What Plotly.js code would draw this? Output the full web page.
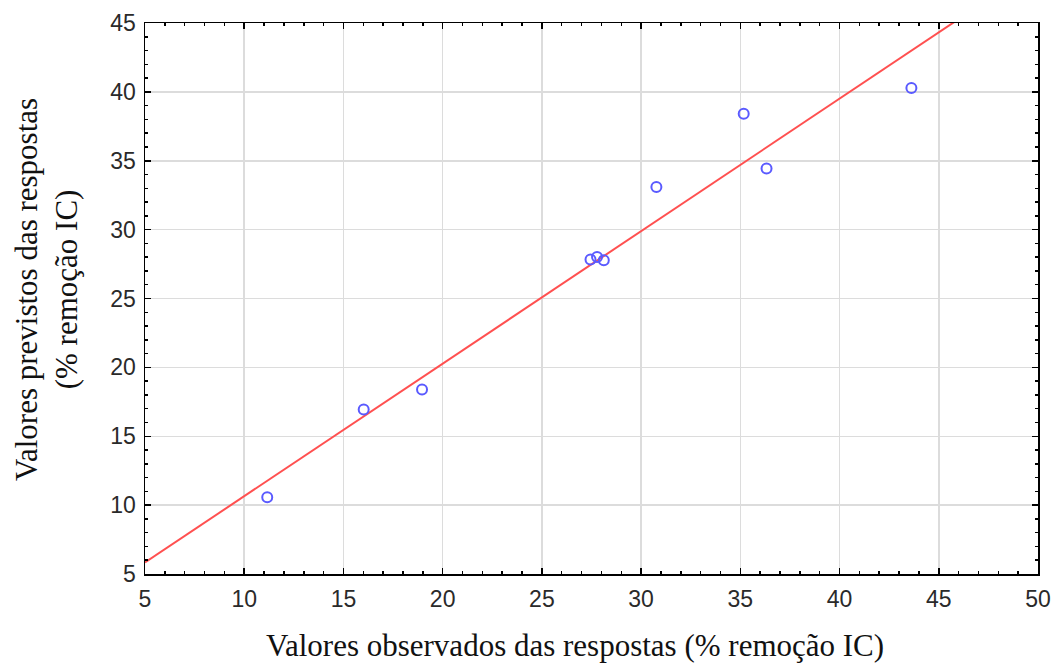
<!DOCTYPE html>
<html>
<head>
<meta charset="utf-8">
<script src="https://cdn.plot.ly/plotly-3.0.1.min.js"></script>
<style>html,body{margin:0;padding:0;background:#fff;}#chart{width:1059px;height:663px;}</style>
</head>
<body>
<div id="chart"></div>
<script>
// Observed vs predicted responses (% remoção IC)
const observed  = [11.16, 16.02, 18.96, 27.45, 27.78, 28.12, 30.77, 36.32, 35.17, 43.62];
const predicted = [10.58, 16.95, 18.40, 27.83, 28.02, 27.78, 33.10, 34.43, 38.42, 40.28];
// fitted line: predicted = fitIntercept + fitSlope * observed
const fitIntercept = 1.03;
const fitSlope = 0.962;
const xRange = [5, 50];
const yRange = [5, 45];
const tickVals = [5, 10, 15, 20, 25, 30, 35, 40, 45, 50];
const xTitle = 'Valores observados das respostas (% remoção IC)';
const yTitle = 'Valores previstos das respostas<br>(% remoção IC)';

const lineX = xRange.slice();
const lineY = lineX.map(v => fitIntercept + fitSlope * v);

const axisCommon = {
  showline: true, linecolor: '#000', linewidth: 1.5, mirror: 'ticks',
  ticks: 'inside', ticklen: 6, tickcolor: '#000', tickwidth: 1.5,
  showgrid: true, gridcolor: '#dcdcdc', gridwidth: 1.5,
  zeroline: false, dtick: 5,
  tickfont: {family: 'Liberation Sans, Arial, sans-serif', size: 23, color: '#2a2a2a'},
  minor: {dtick: 1, ticks: 'inside', ticklen: 3, tickcolor: '#000', showgrid: false}
};
const titleFont = {family: 'Liberation Serif, Times New Roman, serif', size: 31, color: '#111'};

const data = [
  {x: lineX, y: lineY, mode: 'lines', line: {color: '#ff5050', width: 2}, hoverinfo: 'skip', showlegend: false},
  {x: observed, y: predicted, mode: 'markers', showlegend: false,
   marker: {symbol: 'circle-open', size: 10, color: '#5a5aff', line: {width: 2, color: '#5a5aff'}}}
];

const layout = {
  width: 1059, height: 663,
  margin: {l: 145, r: 21, t: 23, b: 89},
  paper_bgcolor: '#fff', plot_bgcolor: '#fff',
  xaxis: Object.assign({}, axisCommon, {range: xRange, tickvals: tickVals, ticklabelstandoff: 4}),
  yaxis: Object.assign({}, axisCommon, {range: yRange, tickvals: tickVals.slice(0, 9), ticklabelstandoff: 3}),
  annotations: [
    {text: xTitle, xref: 'paper', yref: 'paper', x: 0.4815, y: -0.129,
     xanchor: 'center', yanchor: 'middle', showarrow: false, font: titleFont},
    {text: yTitle, xref: 'paper', yref: 'paper', x: -0.111, y: 0.517, textangle: -90,
     xanchor: 'center', yanchor: 'middle', showarrow: false, font: titleFont}
  ]
};

Plotly.newPlot('chart', data, layout, {displayModeBar: false, staticPlot: true});
</script>
</body>
</html>
